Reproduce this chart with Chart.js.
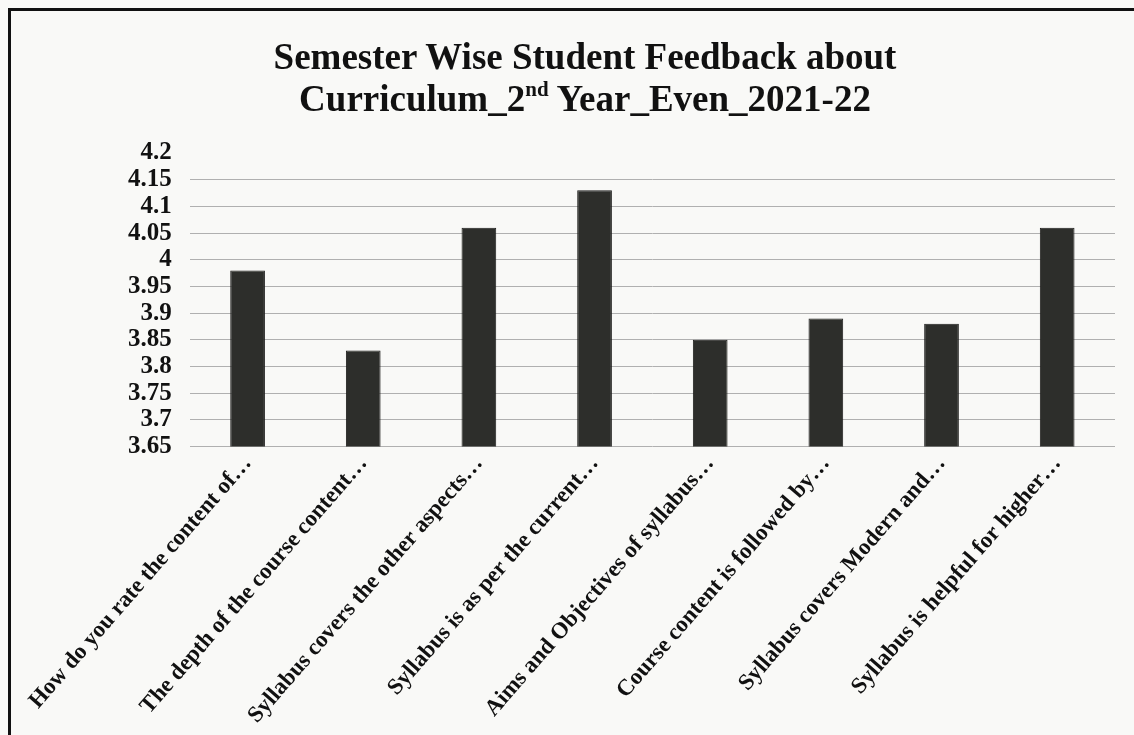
<!DOCTYPE html>
<html>
<head>
<meta charset="utf-8">
<script src="https://cdn.jsdelivr.net/npm/chart.js@4"></script>
<style>
  html, body { margin: 0; padding: 0; background: #f9f9f7; }
  #wrap { position: relative; width: 1134px; height: 735px; overflow: hidden; }
  #frame { position: absolute; left: 8px; top: 8px; width: 1140px; height: 740px;
           border-left: 3px solid #111; border-top: 3px solid #111; box-sizing: border-box; }
  #title { position: absolute; left: 0; top: 36px; width: 1170px; text-align: center;
           font-family: "Liberation Serif", "Times New Roman", serif; font-weight: bold;
           font-size: 37px; line-height: 42px; color: #111; }
  #title sup { font-size: 21px; line-height: 0; vertical-align: 15px; }
  canvas { position: absolute; left: 0; top: 0; }
</style>
</head>
<body>
<div id="wrap">
  <canvas id="c" width="1134" height="735"></canvas>
  <div id="frame"></div>
  <div id="title">Semester Wise Student Feedback about<br>Curriculum_2<sup>nd</sup> Year_Even_2021-22</div>
</div>
<script>
const categories = [
  "How do you rate the content of\u2026",
  "The depth of the course content\u2026",
  "Syllabus covers the other aspects\u2026",
  "Syllabus is as per the current\u2026",
  "Aims and Objectives of syllabus\u2026",
  "Course content is followed by\u2026",
  "Syllabus covers Modern and\u2026",
  "Syllabus is helpful for higher\u2026"
];
const values = [3.98, 3.83, 4.06, 4.13, 3.85, 3.89, 3.88, 4.06];
const yMin = 3.65;
const yMax = 4.2;
const yStep = 0.05;

new Chart(document.getElementById('c'), {
  type: 'bar',
  data: {
    labels: categories,
    datasets: [{
      data: values,
      backgroundColor: '#2d2e2b',
      borderColor: '#1c1c1a',
      borderWidth: 1,
      barPercentage: 0.6,
      categoryPercentage: 0.5
    }]
  },
  options: {
    responsive: false,
    animation: false,
    layout: { padding: { left: 110, right: 19, top: 153, bottom: 2 } },
    plugins: { legend: { display: false }, title: { display: false }, tooltip: { enabled: false } },
    scales: {
      x: {
        grid: { display: false, drawTicks: false },
        border: { display: false },
        ticks: {
          minRotation: 49, maxRotation: 49, autoSkip: false, padding: 4,
          color: '#111',
          font: { family: '"Liberation Serif", "Times New Roman", serif', weight: 'bold', size: 23 }
        }
      },
      y: {
        min: yMin, max: yMax,
        grid: {
          color: (ctx) => (ctx.tick && Math.abs(ctx.tick.value - yMax) < 1e-6) ? 'rgba(0,0,0,0)' : '#b0b0b0',
          lineWidth: 1, drawTicks: false
        },
        border: { display: false },
        ticks: {
          stepSize: yStep, padding: 18, color: '#111', autoSkip: false,
          callback: (v) => String(parseFloat(Number(v).toFixed(2))),
          font: { family: '"Liberation Serif", "Times New Roman", serif', weight: 'bold', size: 25 }
        }
      }
    }
  }
});
</script>
</body>
</html>
